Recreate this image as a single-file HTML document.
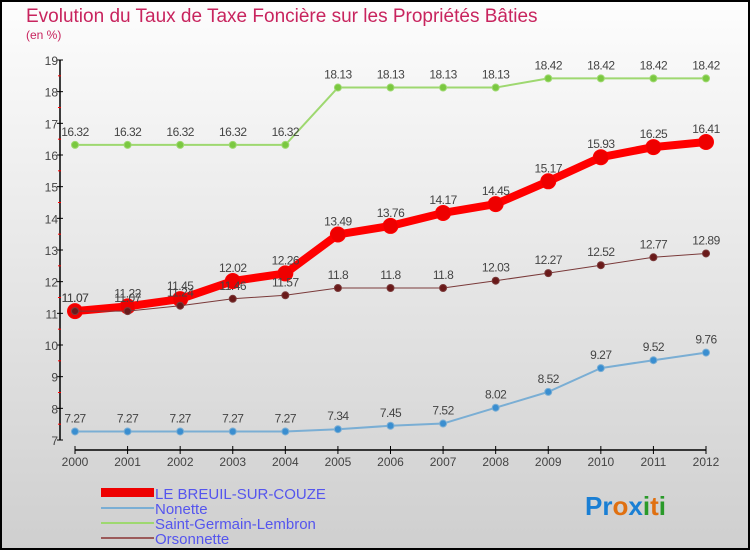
<!DOCTYPE html>
<html><head><meta charset="utf-8"><style>
body{margin:0}
#c{width:750px;height:550px;position:relative;font-family:"Liberation Sans",sans-serif}
</style></head><body>
<div id="c">
<svg id="s" width="750" height="550" xmlns="http://www.w3.org/2000/svg">
<defs><linearGradient id="bg" x1="0" y1="0" x2="0" y2="1"><stop offset="0" stop-color="#fdfdfd"/><stop offset="1" stop-color="#cfcfcf"/></linearGradient></defs>
<rect x="1" y="1" width="748" height="548" fill="url(#bg)" stroke="#000" stroke-width="2"/>
<text x="26" y="22" font-size="19" fill="#c8245e">Evolution du Taux de Taxe Foncière sur les Propriétés Bâties</text>
<text x="26" y="39" font-size="12" fill="#c8245e">(en %)</text>
<g id="axes"></g><g id="series"></g>
<g font-size="15" fill="#5555ee">
<rect x="101" y="488" width="53" height="9" fill="#e00"/>
<text x="155" y="499">LE BREUIL-SUR-COUZE</text>
<line x1="101" y1="508" x2="154" y2="508" stroke="#7aaed4" stroke-width="2"/>
<text x="155" y="514">Nonette</text>
<line x1="101" y1="523" x2="154" y2="523" stroke="#9ed870" stroke-width="2"/>
<text x="155" y="529">Saint-Germain-Lembron</text>
<line x1="101" y1="538" x2="154" y2="538" stroke="#9b5a5a" stroke-width="2"/>
<text x="155" y="544">Orsonnette</text>
</g>
<g font-size="26" font-weight="bold">
<text x="585" y="515"><tspan fill="#1a7fd4">Pr</tspan><tspan fill="#e07010">o</tspan><tspan fill="#1a7fd4">x</tspan><tspan fill="#2a9a2a">i</tspan><tspan fill="#e07010">t</tspan><tspan fill="#2a9a2a">i</tspan></text>
</g>
</svg></div>
<script>
const years=[2000,2001,2002,2003,2004,2005,2006,2007,2008,2009,2010,2011,2012];
const breuil=[11.07,11.22,11.45,12.02,12.26,13.49,13.76,14.17,14.45,15.17,15.93,16.25,16.41];
const nonette=[7.27,7.27,7.27,7.27,7.27,7.34,7.45,7.52,8.02,8.52,9.27,9.52,9.76];
const stgermain=[16.32,16.32,16.32,16.32,16.32,18.13,18.13,18.13,18.13,18.42,18.42,18.42,18.42];
const orsonnette=[11.07,11.07,11.24,11.46,11.57,11.8,11.8,11.8,12.03,12.27,12.52,12.77,12.89];
const yTicks=[7,8,9,10,11,12,13,14,15,16,17,18,19];
const NS="http://www.w3.org/2000/svg";
const X=i=>75+i*(706-75)/12;
const Y=v=>440-(v-7)*(380/12);
function mk(p,t,a){const e=document.createElementNS(NS,t);for(const k in a)e.setAttribute(k,a[k]);p.appendChild(e);return e;}
const ax=document.getElementById('axes');
mk(ax,'line',{x1:60,y1:60,x2:60,y2:440,stroke:'#000','stroke-width':1.5});
mk(ax,'line',{x1:75,y1:450,x2:706,y2:450,stroke:'#000','stroke-width':1.5});
yTicks.forEach(v=>{
 mk(ax,'line',{x1:57,y1:Y(v),x2:63,y2:Y(v),stroke:'#000'});
 if(v<19)mk(ax,'line',{x1:58,y1:Y(v+0.5),x2:61,y2:Y(v+0.5),stroke:'#f00'});
 const t=mk(ax,'text',{x:58,y:Y(v)+5,'font-size':12,fill:'#444','text-anchor':'end'});t.textContent=v;
 
 
});
years.forEach((y,i)=>{
 mk(ax,'line',{x1:X(i),y1:446,x2:X(i),y2:454,stroke:'#000'});
 const t=mk(ax,'text',{x:X(i),y:466,'font-size':12,fill:'#444','text-anchor':'middle'});t.textContent=y;
 
 
});
const sg=document.getElementById('series');
function draw(name,data,col,w,r,dot){
 const g=mk(sg,'g',{});
 
 
 mk(g,'polyline',{points:data.map((v,i)=>X(i)+','+Y(v)).join(' '),fill:'none',stroke:col,'stroke-width':w,'stroke-linejoin':'round'});
 data.forEach((v,i)=>{
  const c=mk(g,'circle',{cx:X(i),cy:Y(v),r:r,fill:dot,stroke:col,'stroke-width':1});
  
  
  const t=mk(g,'text',{x:X(i),y:Y(v)-9,'font-size':12,fill:'#444','text-anchor':'middle','letter-spacing':'-0.5'});t.textContent=v;
  
  
 });
}
draw('nonette',nonette,'#7aaed4',2,3.5,'#3a8ed0');
draw('saint-germain',stgermain,'#9ed870',2,3.5,'#7ac840');
draw('breuil',breuil,'#ff0000',8,7.5,'#ee0000');
draw('orsonnette',orsonnette,'#7a3a3a',1,3.5,'#6a1a1a');
</script>
</body></html>
